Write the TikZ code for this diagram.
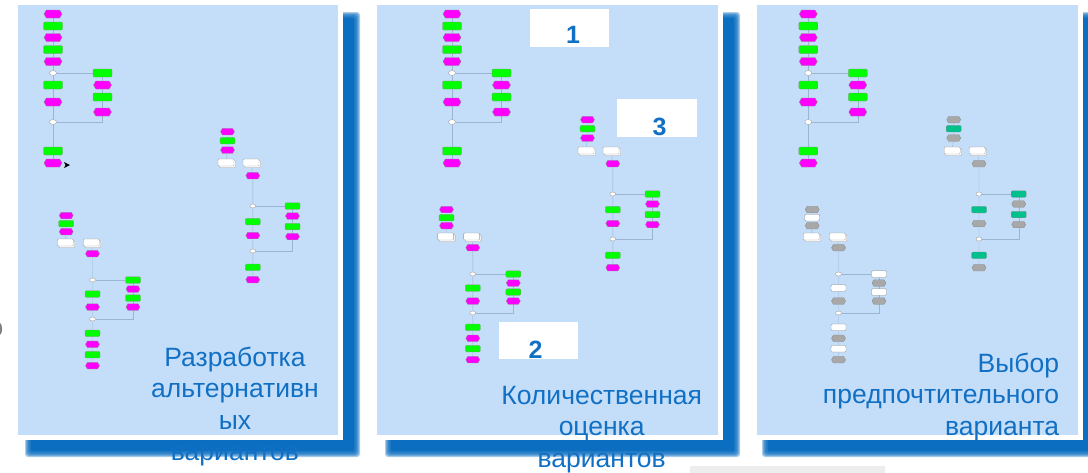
\documentclass[tikz,border=0pt]{standalone}
\usepackage{fontspec}
\setmainfont{Liberation Sans}
\usetikzlibrary{shapes.symbols,shapes.geometric,shadows}

\definecolor{pane}{HTML}{C4DEF9}
\definecolor{shadowblue}{HTML}{0B6EC0}
\definecolor{ink}{HTML}{1170C4}
\definecolor{mag}{HTML}{FF00FF}
\definecolor{grn}{HTML}{00FF00}
\definecolor{epcteal}{HTML}{00C08C}
\definecolor{epcgray}{HTML}{A8A8A8}
\definecolor{wirec}{HTML}{9BB4CF}

\pgfdeclarelayer{panels}
\pgfdeclarelayer{wires}
\pgfsetlayers{panels,wires,main}

\tikzset{
  evt/.style={signal, signal to=west and east, signal pointer angle=120,
    draw=black!45, line width=0.35pt, fill=#1,
    minimum width=18pt, minimum height=8pt, inner sep=0pt},
  fnc/.style={rectangle, rounded corners=1.2pt, draw=black!45, line width=0.35pt,
    fill=#1, minimum width=19pt, minimum height=8pt, inner sep=0pt},
  sevt/.style={evt=#1, minimum width=14pt, minimum height=6.5pt},
  sfnc/.style={fnc=#1, minimum width=15pt, minimum height=6.5pt},
  conn/.style={ellipse, draw=black!40, fill=white, line width=0.35pt,
    minimum width=7pt, minimum height=5pt, inner sep=0pt},
  sconn/.style={conn, minimum width=6pt, minimum height=4pt},
  docu/.style={rectangle, rounded corners=1pt, draw=black!40, fill=white,
    line width=0.35pt, minimum width=16pt, minimum height=7pt, inner sep=0pt,
    copy shadow={shadow xshift=1.5pt, shadow yshift=-1.5pt, draw=black!40, fill=white}},
  wire/.style={draw=wirec, line width=0.4pt},
  caption/.style={font=\fontsize{26.5}{31.5}\selectfont, text=ink, inner sep=0pt},
  numbox/.style={rectangle, fill=white, inner sep=0pt},
  digit/.style={font=\fontsize{25}{25}\selectfont\bfseries, text=ink, inner sep=0pt, anchor=base},
}

% soft drop shadow behind a panel
\newcommand\blurbox[4]{%
  \foreach \e in {3,2,1,0,-1,-2}{%
    \fill[shadowblue, fill opacity=0.35, rounded corners=3pt]
      ({#1-(\e)},{#2-(\e)}) rectangle ({#3+(\e)},{#4+(\e)});}
  \fill[shadowblue] ({#1+3},{#2+3}) rectangle ({#3-3},{#4-3});}

% large process chain: #1 prefix, #2 shift, #3 event fill, #4 function fill
\newcommand\epcA[4]{%
  \begin{scope}[shift={#2}]
    \node[evt=#3] (#1a1) at (0,14) {};
    \node[fnc=#4] (#1a2) at (0,26) {};
    \node[evt=#3] (#1a3) at (0,37.5) {};
    \node[fnc=#4] (#1a4) at (0,49.5) {};
    \node[evt=#3] (#1a5) at (0,61.5) {};
    \node[conn]   (#1c1) at (0,73) {};
    \node[fnc=#4] (#1a6) at (0,85) {};
    \node[evt=#3] (#1a7) at (0,102) {};
    \node[conn]   (#1c2) at (0,122) {};
    \node[fnc=#4] (#1a8) at (0,151) {};
    \node[evt=#3] (#1a9) at (0,163) {};
    \node[fnc=#4] (#1b1) at (49.5,73) {};
    \node[evt=#3] (#1b2) at (49.5,85) {};
    \node[fnc=#4] (#1b3) at (49.5,97) {};
    \node[evt=#3] (#1b4) at (49.5,112) {};
  \end{scope}
  \begin{pgfonlayer}{wires}
    \draw[wire] (#1a1) -- (#1a2) -- (#1a3) -- (#1a4) -- (#1a5) -- (#1c1)
      -- (#1a6) -- (#1a7) -- (#1c2) -- (#1a8) -- (#1a9);
    \draw[wire] (#1c1) -- (#1b1) -- (#1b2) -- (#1b3) -- (#1b4) |- (#1c2);
  \end{pgfonlayer}}

% small chain with documents
\newcommand\epcB[4]{%
  \begin{scope}[shift={#2}]
    \node[sevt=#3] (#1p1) at (0,0) {};
    \node[sfnc=#4] (#1p2) at (0,9) {};
    \node[sevt=#3] (#1p3) at (0,18.3) {};
    \node[docu]    (#1d1) at (-1.5,30.8) {};
    \node[docu]    (#1d2) at (23.5,30.8) {};
    \node[sevt=#3] (#1q1) at (25.3,44) {};
    \node[sconn]   (#1c1) at (25.3,74.3) {};
    \node[sfnc=#4] (#1q2) at (25.3,90) {};
    \node[sevt=#3] (#1q3) at (25.3,103.8) {};
    \node[sconn]   (#1c2) at (25.3,119.3) {};
    \node[sfnc=#4] (#1q4) at (25.3,135.6) {};
    \node[sevt=#3] (#1q5) at (25.3,148) {};
    \node[sfnc=#4] (#1r1) at (65,74.3) {};
    \node[sevt=#3] (#1r2) at (65,84.3) {};
    \node[sfnc=#4] (#1r3) at (65,94.8) {};
    \node[sevt=#3] (#1r4) at (65,104.8) {};
  \end{scope}
  \begin{pgfonlayer}{wires}
    \draw[wire] (#1p1) -- (#1p2) -- (#1p3) -- (#1d1);
    \draw[wire] (#1d2) -- (#1q1) -- (#1c1) -- (#1q2) -- (#1q3) -- (#1c2) -- (#1q4) -- (#1q5);
    \draw[wire] (#1c1) -- (#1r1) -- (#1r2) -- (#1r3) -- (#1r4) |- (#1c2);
  \end{pgfonlayer}}

\newcommand\epcC[4]{%
  \begin{scope}[shift={#2}]
    \node[sevt=#3] (#1p1) at (0,0) {};
    \node[sfnc=#4] (#1p2) at (0,8.2) {};
    \node[sevt=#3] (#1p3) at (0,16.2) {};
    \node[docu]    (#1d1) at (-0.9,27) {};
    \node[docu]    (#1d2) at (25.1,27) {};
    \node[sevt=#3] (#1q1) at (26.3,38.2) {};
    \node[sconn]   (#1c1) at (26.3,64.5) {};
    \node[sfnc=#4] (#1q2) at (26.3,78.5) {};
    \node[sevt=#3] (#1q3) at (26.3,91.5) {};
    \node[sconn]   (#1c2) at (26.3,103.5) {};
    \node[sfnc=#4] (#1q4) at (26.3,117.8) {};
    \node[sevt=#3] (#1q5) at (26.3,128.8) {};
    \node[sfnc=#4] (#1q6) at (26.3,139.2) {};
    \node[sevt=#3] (#1q7) at (26.3,150.2) {};
    \node[sfnc=#4] (#1r1) at (66.8,64.5) {};
    \node[sevt=#3] (#1r2) at (66.8,73.5) {};
    \node[sfnc=#4] (#1r3) at (66.8,82.5) {};
    \node[sevt=#3] (#1r4) at (66.8,91.5) {};
  \end{scope}
  \begin{pgfonlayer}{wires}
    \draw[wire] (#1p1) -- (#1p2) -- (#1p3) -- (#1d1);
    \draw[wire] (#1d2) -- (#1q1) -- (#1c1) -- (#1q2) -- (#1q3) -- (#1c2)
      -- (#1q4) -- (#1q5) -- (#1q6) -- (#1q7);
    \draw[wire] (#1c1) -- (#1r1) -- (#1r2) -- (#1r3) -- (#1r4) |- (#1c2);
  \end{pgfonlayer}}

\begin{document}
\begin{tikzpicture}[x=1pt,y=-1pt]
\useasboundingbox (0,0) rectangle (1088,472);

\begin{pgfonlayer}{panels}
  % shadows
  \blurbox{28}{15}{357}{454}
  \blurbox{388}{15}{737}{454}
  \blurbox{765}{15}{1097}{454}
  % white frames and blue panes
  \fill[white] (13,0) rectangle (343,440);
  \fill[pane] (18,5) rectangle (338,435);
  \fill[white] (372,0) rectangle (723,440);
  \fill[pane] (377,5) rectangle (718,435);
  \fill[white] (752,0) rectangle (1083,440);
  \fill[pane] (757,5) rectangle (1078,435);
  % faint strip below the last pane
  \fill[black!7] (690,466) rectangle (885,473);
\end{pgfonlayer}

% left pane: alternatives
\epcA{L}{(53,0)}{mag}{grn}
\epcB{LB}{(227.5,131.7)}{mag}{grn}
\epcC{LC}{(66.2,215.5)}{mag}{grn}
\fill[black] (64,162) -- (70,165) -- (64,168) -- (65.5,165) -- cycle;

% middle pane: evaluation
\epcA{M}{(452,0)}{mag}{grn}
\epcB{MB}{(587.5,119.7)}{mag}{grn}
\epcC{MC}{(446.5,209.5)}{mag}{grn}
\node[numbox, minimum width=79pt, minimum height=38pt] (box1) at (569.5,28) {};
\node[numbox, minimum width=80pt, minimum height=38pt] (box3) at (657,118) {};
\node[numbox, minimum width=79pt, minimum height=37pt] (box2) at (538.5,340.5) {};
\node[digit] (n1) at (573,43.3) {1};
\node[digit] (n3) at (659.5,135.7) {3};
\node[digit] (n2) at (535.5,358.5) {2};

% right pane: choice
\epcA{R}{(808.3,0)}{mag}{grn}
\epcB{RB}{(953.7,119.7)}{epcgray}{epcteal}
\epcC{RC}{(812.2,209.5)}{epcgray}{white}

% captions (anchored at the baseline of the last line)
\node[caption, anchor=base, align=center] (cap1) at (235,460.5)
  {Разработка\\альтернативн\\ых\\вариантов};
\node[caption, anchor=base, align=center] (cap2) at (601.7,467)
  {Количественная\\оценка\\вариантов};
\node[caption, anchor=base east, align=right] (cap3) at (1059.3,435)
  {Выбор\\предпочтительного\\варианта};
\node[caption, text=black!50, anchor=base east] (cut) at (3.5,336) {о};
\end{tikzpicture}
\end{document}
